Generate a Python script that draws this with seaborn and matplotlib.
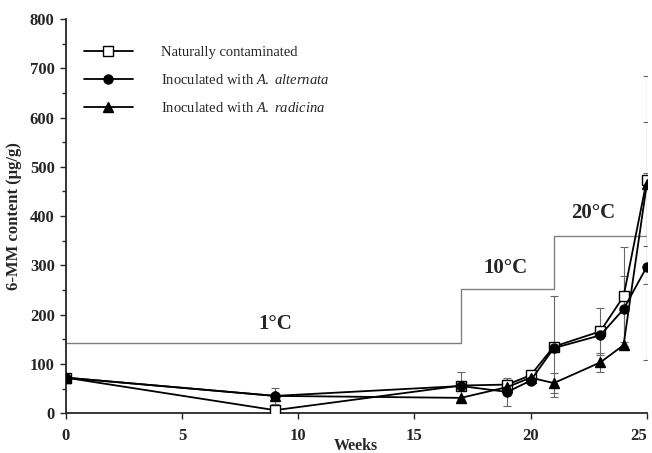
import matplotlib
matplotlib.use("Agg")
import matplotlib.pyplot as plt
import seaborn as sns
import pandas as pd
from matplotlib.ticker import MultipleLocator

# data
weeks = [0, 9, 17, 19, 20, 21, 23, 24, 25]
natural = [72, 6, 56, 58, 77, 135, 166, 237, 473]
alternata = [72, 35, 55, 43, 66, 132, 158, 211, 297]
radicina = [72, 35, 31, 53, 72, 61, 103, 138, 465]
natural_err = [0, 0, 28, 10, 0, 102, 47, 100, 211]
alternata_err = [0, 17, 0, 29, 0, 0, 0, 67, 190]
radicina_err = [0, 0, 0, 0, 0, 21, 20, 0, 125]

temp_x = [0, 17, 17, 21, 21, 25]
temp_y = [143, 143, 252, 252, 360, 360]
temp_labels = ["1°C", "10°C", "20°C"]
temp_label_x = [9, 18.9, 22.7]
temp_label_y = [180, 294, 406]

xticks = [0, 5, 10, 15, 20, 25]

sns.set_style("ticks")
plt.rcParams["font.family"] = ["Liberation Serif", "DejaVu Serif"]
plt.rcParams["mathtext.fontset"] = "custom"
plt.rcParams["mathtext.it"] = "Liberation Serif:italic"
plt.rcParams["mathtext.rm"] = "Liberation Serif"

fig = plt.figure(figsize=(6.52, 4.53), dpi=100)
ax = fig.add_axes([0.101, 0.088, 0.891, 0.870])

# temperature regime
ax.plot(temp_x, temp_y, color="0.5", lw=1.0, zorder=1)
for t, tx, ty in zip(temp_labels, temp_label_x, temp_label_y):
    ax.text(tx, ty, t, ha="center", va="center", fontsize=15, fontweight="bold")

series = [
    ("Naturally contaminated", natural, natural_err, "s", "white"),
    (r"Inoculated with $\mathit{A.\ alternata}$", alternata, alternata_err, "o", "black"),
    (r"Inoculated with $\mathit{A.\ radicina}$", radicina, radicina_err, "^", "black"),
]

for name, vals, errs, mk, fc in series:
    df = pd.DataFrame({"Weeks": weeks, "val": vals})
    w = [x for x, e in zip(weeks, errs) if e > 0]
    v = [y for y, e in zip(vals, errs) if e > 0]
    e = [e for e in errs if e > 0]
    ax.errorbar(w, v, yerr=e, fmt="none", ecolor="0.4", elinewidth=0.8,
                capsize=3, capthick=0.8, zorder=2)
    sns.lineplot(data=df, x="Weeks", y="val", ax=ax, color="black", lw=1.3,
                 marker=mk, markersize=6.5, markerfacecolor=fc,
                 markeredgecolor="black", markeredgewidth=1.0, label=name, zorder=3)

ax.set_xlim(0, 25)
ax.set_ylim(0, 800)
ax.set_xticks(xticks)
ax.set_xticklabels([str(t) for t in xticks], fontweight="bold")
ax.yaxis.set_major_locator(MultipleLocator(100))
ax.yaxis.set_minor_locator(MultipleLocator(50))
ax.tick_params(axis="both", which="both", direction="out", width=1.0)
ax.tick_params(axis="both", which="major", length=4, labelsize=12)
ax.tick_params(axis="x", pad=7)
ax.tick_params(axis="y", pad=4)
ax.tick_params(axis="y", which="minor", length=3)
for lab in ax.get_yticklabels():
    lab.set_fontweight("bold")
# keep the last x label inside the figure
ax.get_xticklabels()[-1].set_horizontalalignment("right")
sns.despine(ax=ax)
for s in ["left", "bottom"]:
    ax.spines[s].set_linewidth(1.3)

ax.set_xlabel("Weeks", fontsize=11.5, fontweight="bold")
ax.xaxis.set_label_coords(0.5, -0.062)
ax.set_ylabel("6-MM content (µg/g)", fontsize=12, fontweight="bold", labelpad=6)

ax.legend(loc="upper left", bbox_to_anchor=(0.008, 0.965), frameon=False,
          fontsize=10.5, handlelength=3.4, handletextpad=1.9, labelspacing=0.95)

fig.savefig("out.png", dpi=100)
